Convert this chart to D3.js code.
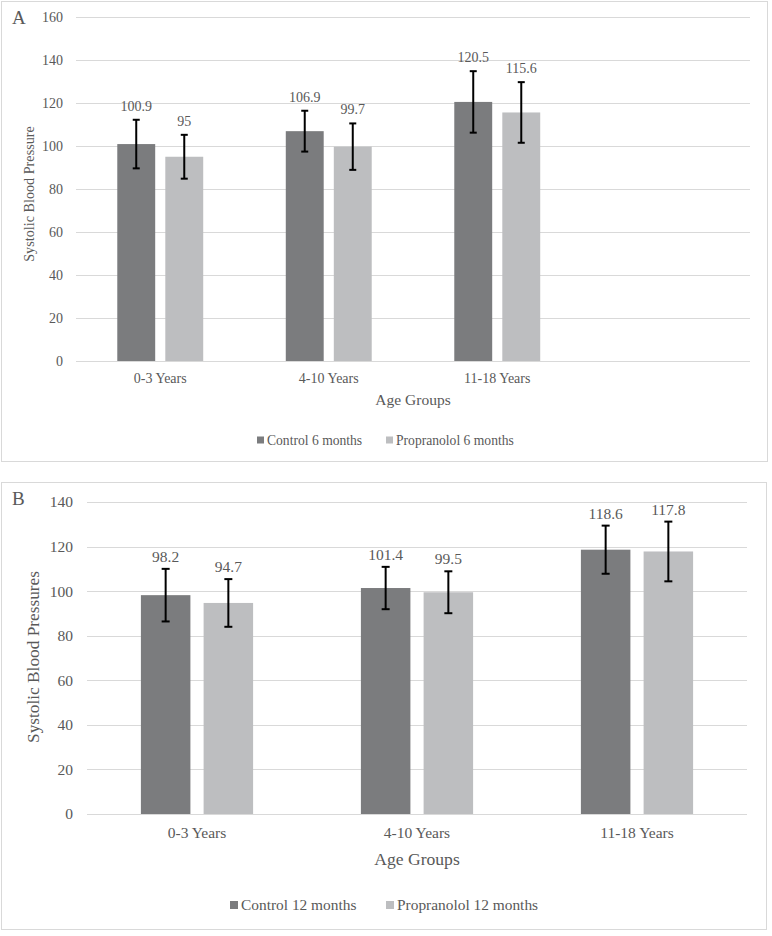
<!DOCTYPE html>
<html>
<head>
<meta charset="utf-8">
<script src="https://cdn.jsdelivr.net/npm/d3@7"></script>
<style>
  html, body { margin: 0; padding: 0; background: #ffffff; }
  svg { display: block; }
  text { font-family: "Liberation Serif", "Times New Roman", serif; fill: #595959; }
</style>
</head>
<body>
<svg id="chart" width="772" height="936"></svg>
<script>
// ---------- Data ----------
const categoriesA = ["0-3 Years", "4-10 Years", "11-18 Years", ""];
const seriesA = ["Control 6 months", "Propranolol 6 months"];
const controlA = [100.9, 106.9, 120.5];
const propranololA = [95, 99.7, 115.6];
const errControlA = [11.3, 9.5, 14.3];
const errPropranololA = [10.2, 10.8, 14.1];
const ticksA = [0, 20, 40, 60, 80, 100, 120, 140, 160];

const categoriesB = ["0-3 Years", "4-10 Years", "11-18 Years"];
const seriesB = ["Control 12 months", "Propranolol 12 months"];
const controlB = [98.2, 101.4, 118.6];
const propranololB = [94.7, 99.5, 117.8];
const errControlB = [11.8, 9.5, 10.8];
const errPropranololB = [10.7, 9.4, 13.4];
const ticksB = [0, 20, 40, 60, 80, 100, 120, 140];

const colors = ["#7b7c7e", "#bdbec0"];

const svg = d3.select("#chart");

function drawPanel(cfg) {
  const g = svg.append("g");
  // frame
  g.append("rect")
    .attr("x", cfg.box[0] + 0.5).attr("y", cfg.box[1] + 0.5)
    .attr("width", cfg.box[2] - cfg.box[0]).attr("height", cfg.box[3] - cfg.box[1])
    .attr("fill", "#fff").attr("stroke", "#d9d9d9").attr("stroke-width", 1);

  // panel letter
  g.append("text").attr("x", cfg.letterPos[0]).attr("y", cfg.letterPos[1])
    .attr("dy", "0.35em").attr("font-size", 19).text(cfg.letter);

  const x = d3.scaleBand().domain(cfg.categories).range([cfg.left, cfg.right]).padding(0);
  const y = d3.scaleLinear().domain([0, d3.max(cfg.ticks)]).range([cfg.bottom, cfg.top]);

  // gridlines
  g.append("g").selectAll("line").data(cfg.ticks).join("line")
    .attr("x1", cfg.left).attr("x2", cfg.right)
    .attr("y1", d => Math.round(y(d)) + 0.5).attr("y2", d => Math.round(y(d)) + 0.5)
    .attr("stroke", "#d9d9d9").attr("stroke-width", 1);

  // y tick labels
  g.append("g").selectAll("text").data(cfg.ticks).join("text")
    .attr("x", cfg.left - cfg.tickGap).attr("y", d => y(d))
    .attr("dy", "0.35em").attr("text-anchor", "end")
    .attr("font-size", cfg.tickSize).text(d => d);

  // category labels
  g.append("g").selectAll("text").data(cfg.categories.filter(c => c !== "")).join("text")
    .attr("x", d => x(d) + x.bandwidth() / 2).attr("y", cfg.bottom + cfg.catOffset)
    .attr("dy", "0.35em").attr("text-anchor", "middle")
    .attr("font-size", cfg.tickSize).text(d => d);

  // axis titles
  g.append("text").attr("x", (cfg.left + cfg.right) / 2).attr("y", cfg.bottom + cfg.titleOffset)
    .attr("dy", "0.35em").attr("text-anchor", "middle")
    .attr("font-size", cfg.titleSize).text("Age Groups");
  g.append("text")
    .attr("transform", `translate(${cfg.yTitleX},${cfg.yTitleY}) rotate(-90)`)
    .attr("dy", "0.35em").attr("text-anchor", "middle")
    .attr("font-size", cfg.yTitleSize).text(cfg.yTitle);

  // bars
  const bw = x.bandwidth() * 0.225;
  const gap = x.bandwidth() * 0.06;
  const data = [];
  cfg.values.forEach((vals, si) => {
    vals.forEach((v, ci) => {
      const cx = x(cfg.categories[ci]) + x.bandwidth() / 2;
      const x0 = si === 0 ? cx - gap / 2 - bw : cx + gap / 2;
      data.push({ v, e: cfg.errors[si][ci], x0, si });
    });
  });

  g.append("g").selectAll("rect").data(data).join("rect")
    .attr("x", d => d.x0).attr("width", bw)
    .attr("y", d => y(d.v)).attr("height", d => y(0) - y(d.v))
    .attr("fill", d => colors[d.si]);

  // error bars
  const eg = g.append("g").attr("stroke", "#000").attr("stroke-width", 2);
  data.forEach(d => {
    const cx = d.x0 + bw / 2;
    const cap = cfg.cap;
    eg.append("line").attr("x1", cx).attr("x2", cx).attr("y1", y(d.v + d.e)).attr("y2", y(d.v - d.e));
    eg.append("line").attr("x1", cx - cap).attr("x2", cx + cap).attr("y1", y(d.v + d.e)).attr("y2", y(d.v + d.e));
    eg.append("line").attr("x1", cx - cap).attr("x2", cx + cap).attr("y1", y(d.v - d.e)).attr("y2", y(d.v - d.e));
  });

  // value labels
  g.append("g").selectAll("text").data(data).join("text")
    .attr("x", d => d.x0 + bw / 2).attr("y", d => y(d.v + d.e) - cfg.labelOffset)
    .attr("dy", "0.35em").attr("text-anchor", "middle")
    .attr("font-size", cfg.labelSize).text(d => d.v);

  // legend
  const lg = g.append("g");
  cfg.series.forEach((s, i) => {
    const lx = cfg.legendX[i];
    lg.append("rect").attr("x", lx).attr("y", cfg.legendY - cfg.legendSq / 2)
      .attr("width", cfg.legendSq).attr("height", cfg.legendSq).attr("fill", colors[i]);
    lg.append("text").attr("x", lx + cfg.legendSq + 3).attr("y", cfg.legendY)
      .attr("dy", "0.35em").attr("font-size", cfg.legendSize).text(s);
  });
}

drawPanel({
  box: [1, 1, 767, 461], letter: "A", letterPos: [12, 17],
  categories: categoriesA, series: seriesA,
  values: [controlA, propranololA], errors: [errControlA, errPropranololA],
  ticks: ticksA,
  left: 76, right: 750, top: 17, bottom: 361,
  tickGap: 13, tickSize: 14, catOffset: 17, titleOffset: 39, titleSize: 15.5,
  yTitle: "Systolic Blood Pressure", yTitleX: 29, yTitleY: 194, yTitleSize: 14.2,
  cap: 3.5, labelOffset: 14, labelSize: 14,
  legendX: [257, 386], legendY: 440, legendSq: 7, legendSize: 13.6
});

drawPanel({
  box: [1, 482, 766, 929], letter: "B", letterPos: [12, 498],
  categories: categoriesB, series: seriesB,
  values: [controlB, propranololB], errors: [errControlB, errPropranololB],
  ticks: ticksB,
  left: 87, right: 747, top: 502, bottom: 814,
  tickGap: 14, tickSize: 15.5, catOffset: 19, titleOffset: 45, titleSize: 17.6,
  yTitle: "Systolic Blood Pressures", yTitleX: 33, yTitleY: 657, yTitleSize: 17.3,
  cap: 4, labelOffset: 12.5, labelSize: 15.5,
  legendX: [230, 386], legendY: 905, legendSq: 8, legendSize: 15.4
});
</script>
</body>
</html>
